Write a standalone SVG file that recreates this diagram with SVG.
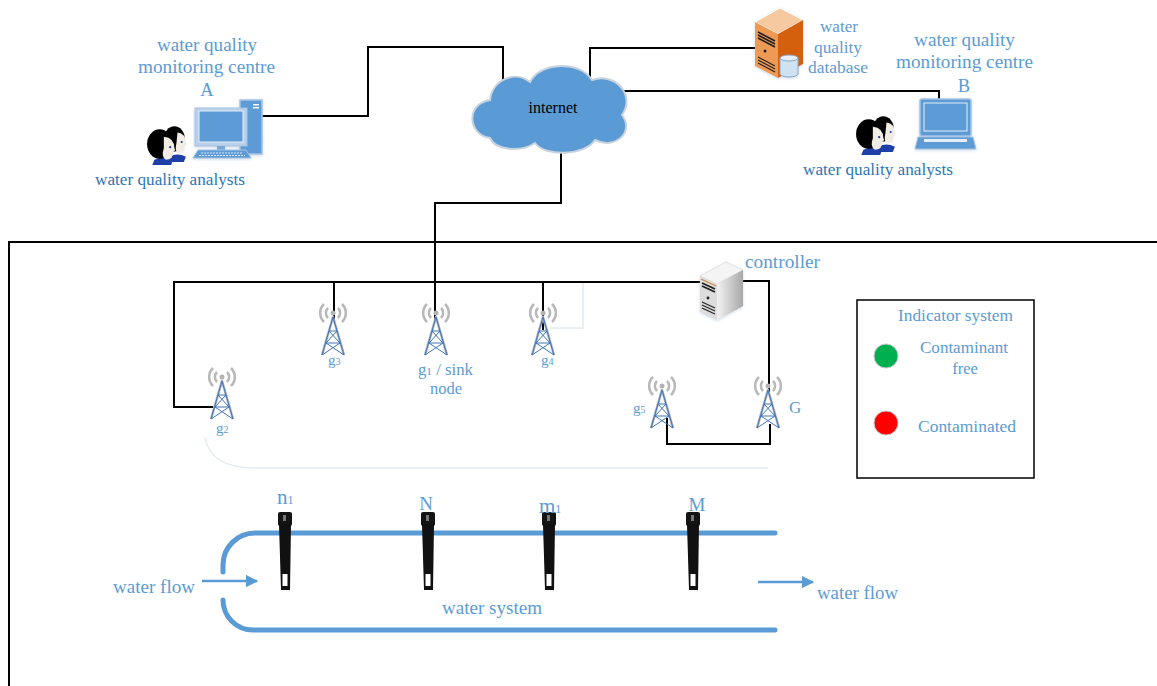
<svg xmlns="http://www.w3.org/2000/svg" width="1157" height="686" viewBox="0 0 1157 686">
  <style>
    .lbl { font-family: "Liberation Serif", "Times New Roman", serif; fill: #5b9bd5; }
    .dark { font-family: "Liberation Serif", "Times New Roman", serif; fill: #2e75b6; }
    .blk { font-family: "Liberation Serif", "Times New Roman", serif; fill: #000; }
    .wire { fill: none; stroke: #000; stroke-width: 2; stroke-linejoin: miter; }
    .faint { fill: none; stroke: #e3eaf3; stroke-width: 1.5; }
    .pipe { fill: none; stroke: #5b9bd5; stroke-width: 5; stroke-linecap: round; }
    .flow { fill: none; stroke: #5b9bd5; stroke-width: 2.5; }
  </style>
  <defs>
    <marker id="arr" viewBox="0 0 10 10" refX="9" refY="5" markerWidth="5" markerHeight="5" orient="auto" markerUnits="strokeWidth">
      <path d="M0,0 L10,5 L0,10 Z" fill="#5b9bd5"/>
    </marker>
    <filter id="soft" x="-20%" y="-20%" width="140%" height="140%">
      <feGaussianBlur in="SourceAlpha" stdDeviation="1.5"/>
      <feOffset dx="0" dy="1" result="b"/>
      <feFlood flood-color="#9bb8d8" flood-opacity="0.5"/>
      <feComposite in2="b" operator="in"/>
      <feMerge><feMergeNode/><feMergeNode in="SourceGraphic"/></feMerge>
    </filter>
    <linearGradient id="srvSide" x1="0" y1="0" x2="1" y2="0">
      <stop offset="0" stop-color="#f2f2f2"/>
      <stop offset="1" stop-color="#a8a8a8"/>
    </linearGradient>
    <!-- radio tower: origin at the centre of the waves -->
    <g id="tower">
      <circle cx="0" cy="0" r="2.5" fill="#b3b3b3"/>
      <path d="M-5,-5 A7,7 0 0 0 -5,5 M5,-5 A7,7 0 0 1 5,5 M-9,-9 A12.5,12.5 0 0 0 -9,9 M9,-9 A12.5,12.5 0 0 1 9,9" fill="none" stroke="#b8b8b8" stroke-width="2.5"/>
      <path d="M-11,42 L0,4 L11,42" fill="none" stroke="#aab3bf" stroke-width="2.5" stroke-linejoin="round"/>
      <path d="M-11,42 L0,4 L11,42 M-4,18 L4,18 M-7,30 L7,30 M-4,18 L7,30 M4,18 L-7,30 M-7,30 L11,42 M7,30 L-11,42" fill="none" stroke="#3f74b8" stroke-width="1"/>
    </g>
    <!-- two analysts -->
    <g id="people">
      <path d="M22,33 Q30,29 38,33 L36,38 L22,38 Z" fill="#1f3fa8"/>
      <ellipse cx="27" cy="16" rx="10" ry="12" fill="#000"/>
      <path d="M30,10 Q38,11 38,20 Q40,22 37,23 Q37,30 31,30 Q27,28 29,20 Z" fill="#f1ede4"/>
      <circle cx="34" cy="19" r="1" fill="#1f3fa8"/>
      <path d="M8,36 Q17,31 26,35 L24,41 L6,41 Z" fill="#1f3fa8"/>
      <ellipse cx="13" cy="21" rx="12" ry="14" fill="#000"/>
      <path d="M17,14 Q27,15 27,25 Q29,27 26,28 Q26,36 19,36 Q14,33 17,25 Z" fill="#f1ede4"/>
      <circle cx="23" cy="24" r="1.1" fill="#1f3fa8"/>
    </g>
    <!-- water quality probe -->
    <g id="probe">
      <rect x="-7" y="0" width="14" height="14" rx="2" fill="#141414"/>
      <path d="M-6,12 L6,12 L5,78 L-4,78 Z" fill="#111"/>
      <rect x="-2" y="3" width="3" height="6" fill="#777"/>
      <rect x="-2.5" y="62" width="5" height="12" fill="#fff"/>
    </g>
  </defs>

  <!-- field enclosure -->
  <rect x="9" y="242" width="1170" height="470" fill="none" stroke="#000" stroke-width="2"/>

  <!-- faint guide lines -->
  <g id="guides">
    <path class="faint" d="M583,282 L583,328 L550,328"/>
    <path class="faint" d="M205,437 Q210,468 255,468 L768,468"/>
  </g>

  <!-- connectors -->
  <g id="connectors">
    <path class="wire" d="M260,116 L368,116 L368,47 L503,47 L503,90"/>
    <path class="wire" d="M590,77 L590,48 L780,48"/>
    <path class="wire" d="M605,91 L939,91 L939,103"/>
    <path class="wire" d="M561,153 L561,203 L435,203 L435,322"/>
    <path class="wire" d="M213,407 L174,407 L174,282 L700,282" stroke-width="2.5"/>
    <path class="wire" d="M334,282 L334,320" stroke-width="2.5"/>
    <path class="wire" d="M543,282 L543,330" stroke-width="2.5"/>
    <path class="wire" d="M741,281 L769,281 L769,392"/>
    <path class="wire" d="M667,418 L667,444 L770,444 L770,424"/>
  </g>

  <!-- internet cloud -->
  <g id="internet">
    <path d="M490,138 C468,135 465,104 490,100 C492,80 515,70 530,82 C540,62 580,60 592,80 C615,72 636,95 622,115 C635,132 615,150 595,140 C585,156 545,157 535,143 C520,153 495,150 490,138 Z" fill="#5b9bd5" stroke="#c9d3de" stroke-width="2"/>
    <text class="blk" x="553" y="113" font-size="16" text-anchor="middle">internet</text>
  </g>

  <!-- monitoring centre A -->
  <g id="centreA">
    <text class="lbl" x="157" y="51" font-size="18.5" textLength="100" lengthAdjust="spacingAndGlyphs">water quality</text>
    <text class="lbl" x="138" y="73" font-size="18.5" textLength="137" lengthAdjust="spacingAndGlyphs">monitoring centre</text>
    <text class="lbl" x="207" y="96" font-size="18.5" text-anchor="middle">A</text>
    <g filter="url(#soft)">
      <rect x="240" y="100" width="22" height="54" fill="#5b9bd5" stroke="#a7c3e3" stroke-width="1.5"/>
      <rect x="253" y="104" width="6" height="1.5" fill="#fff"/>
      <rect x="253" y="107" width="6" height="1.5" fill="#fff"/>
      <rect x="195" y="108" width="52" height="38" fill="#b8d0ec" stroke="#a7c3e3"/>
      <rect x="199" y="111" width="44" height="31" fill="#5b9bd5" stroke="#e6eef8"/>
      <rect x="217" y="146" width="8" height="4" fill="#7aa7da"/>
      <path d="M198,150 L246,150 L251,158 L193,158 Z" fill="#5b9bd5" stroke="#a7c3e3"/>
      <path d="M201,153 L243,153 M199,155.5 L245,155.5" stroke="#dbe7f5" stroke-width="1" stroke-dasharray="2,1"/>
    </g>
    <use href="#people" transform="translate(146,122) scale(1.05)"/>
    <text class="dark" x="95" y="185" font-size="16.5" textLength="150" lengthAdjust="spacingAndGlyphs">water quality analysts</text>
  </g>

  <!-- database -->
  <g id="database">
    <g filter="url(#soft)">
      <path d="M755,22 L780,8 L803,20 L778,34 Z" fill="#f6c9a0" stroke="#fff" stroke-width="1"/>
      <path d="M755,22 L778,34 L778,78 L755,66 Z" fill="#ee9a55"/>
      <path d="M778,34 L803,20 L803,64 L778,78 Z" fill="#d4600f"/>
      <path d="M758,32 L775,41 M758,35 L775,44 M758,38 L775,47" stroke="#222" stroke-width="1.6"/>
      <circle cx="765" cy="51" r="1.5" fill="#222"/>
      <path d="M758,57 L775,66 M758,60 L775,69 M758,63 L775,72" stroke="#222" stroke-width="1.2"/>
      <path d="M780,58 L780,74 A9,3 0 0 0 798,74 L798,58" fill="#cfe2f3" stroke="#8aa6c0" stroke-width="1"/>
      <ellipse cx="789" cy="58" rx="9" ry="3" fill="#e7f0fa" stroke="#8aa6c0" stroke-width="1"/>
    </g>
    <text class="lbl" x="820" y="32" font-size="16.5" textLength="38" lengthAdjust="spacingAndGlyphs">water</text>
    <text class="lbl" x="814" y="53" font-size="16.5" textLength="48" lengthAdjust="spacingAndGlyphs">quality</text>
    <text class="lbl" x="808" y="73" font-size="16.5" textLength="60" lengthAdjust="spacingAndGlyphs">database</text>
  </g>

  <!-- monitoring centre B -->
  <g id="centreB">
    <text class="lbl" x="914" y="46" font-size="18.5" textLength="101" lengthAdjust="spacingAndGlyphs">water quality</text>
    <text class="lbl" x="896" y="68" font-size="18.5" textLength="137" lengthAdjust="spacingAndGlyphs">monitoring centre</text>
    <text class="lbl" x="964" y="92" font-size="18.5" text-anchor="middle">B</text>
    <g filter="url(#soft)">
      <rect x="920" y="99" width="51" height="37" rx="2" fill="#5b9bd5" stroke="#a7c3e3" stroke-width="1.5"/>
      <rect x="924" y="103" width="43" height="28" fill="#5b9bd5" stroke="#e6eef8"/>
      <path d="M918,137 L973,137 L976,149 L915,149 Z" fill="#5b9bd5" stroke="#a7c3e3"/>
      <rect x="924" y="139" width="43" height="3" fill="#e6eef8"/>
    </g>
    <use href="#people" transform="translate(855,112) scale(1.05)"/>
    <text class="dark" x="803" y="175" font-size="16.5" textLength="150" lengthAdjust="spacingAndGlyphs">water quality analysts</text>
  </g>

  <!-- gateways -->
  <g id="g3">
    <use href="#tower" x="333" y="313"/>
    <text class="lbl" x="328" y="365" font-size="15">g<tspan font-size="10">3</tspan></text>
  </g>
  <g id="g1">
    <use href="#tower" x="436" y="313"/>
    <text class="lbl" x="418" y="375" font-size="16.5" textLength="55" lengthAdjust="spacingAndGlyphs">g<tspan font-size="11">1</tspan> / sink</text>
    <text class="lbl" x="446" y="394" font-size="16.5" text-anchor="middle">node</text>
  </g>
  <g id="g4">
    <use href="#tower" x="543" y="313"/>
    <text class="lbl" x="541" y="365" font-size="15">g<tspan font-size="10">4</tspan></text>
  </g>
  <g id="g2">
    <use href="#tower" x="222" y="377"/>
    <text class="lbl" x="216" y="433" font-size="15">g<tspan font-size="10">2</tspan></text>
  </g>
  <g id="g5">
    <use href="#tower" x="662" y="386"/>
    <text class="lbl" x="633" y="413" font-size="15">g<tspan font-size="10">5</tspan></text>
  </g>
  <g id="G">
    <use href="#tower" x="768" y="386"/>
    <text class="lbl" x="789" y="413" font-size="17">G</text>
  </g>

  <!-- controller -->
  <g id="controller">
    <g filter="url(#soft)">
      <path d="M700,276 L726,262 L743,270 L717,284 Z" fill="#f4f4f4" stroke="#ddd" stroke-width="0.8"/>
      <path d="M700,276 L717,284 L717,320 L700,312 Z" fill="#dcdcdc"/>
      <path d="M717,284 L743,270 L743,306 L717,320 Z" fill="url(#srvSide)"/>
      <path d="M701,279 L716,286" stroke="#d58a3a" stroke-width="1.2"/>
      <path d="M702,283 L715,289 M702,286 L715,292" stroke="#222" stroke-width="1.8"/>
      <circle cx="708" cy="298" r="1.4" fill="#222"/>
      <path d="M702,302 L715,308 M702,305 L715,311 M702,308 L715,314" stroke="#222" stroke-width="1.2"/>
    </g>
    <text class="lbl" x="745" y="268" font-size="18.5" textLength="75" lengthAdjust="spacingAndGlyphs">controller</text>
  </g>

  <!-- indicator legend -->
  <g id="indicator">
    <rect x="857" y="300" width="177" height="178" fill="#fff" stroke="#000" stroke-width="1.5"/>
    <text class="lbl" x="898" y="321" font-size="16.5" textLength="115" lengthAdjust="spacingAndGlyphs">Indicator system</text>
    <circle cx="886" cy="356" r="12" fill="#00b050" stroke="#c8c8c8" stroke-width="1"/>
    <text class="lbl" x="920" y="353" font-size="16.5" textLength="88" lengthAdjust="spacingAndGlyphs">Contaminant</text>
    <text class="lbl" x="965" y="374" font-size="16.5" text-anchor="middle">free</text>
    <circle cx="886" cy="423" r="12" fill="#ff0000" stroke="#c8c8c8" stroke-width="1"/>
    <text class="lbl" x="918" y="432" font-size="16.5" textLength="98" lengthAdjust="spacingAndGlyphs">Contaminated</text>
  </g>

  <!-- water system pipe -->
  <g id="water-system">
    <path class="pipe" d="M223,572 L223,565 A32,32 0 0 1 255,533 L775,533"/>
    <path class="pipe" d="M223,600 A30,30 0 0 0 253,630 L775,630"/>
    <text class="lbl" x="442" y="614" font-size="18.5" textLength="100" lengthAdjust="spacingAndGlyphs">water system</text>
  </g>

  <!-- flow arrows -->
  <g id="flow-in">
    <path class="flow" d="M202,581 L257,581" marker-end="url(#arr)"/>
    <text class="lbl" x="113" y="593" font-size="18.5" textLength="82" lengthAdjust="spacingAndGlyphs">water flow</text>
  </g>
  <g id="flow-out">
    <path class="flow" d="M758,582 L813,582" marker-end="url(#arr)"/>
    <text class="lbl" x="817" y="599" font-size="18.5" textLength="81" lengthAdjust="spacingAndGlyphs">water flow</text>
  </g>

  <!-- sensor probes -->
  <g id="n1">
    <use href="#probe" x="285" y="512"/>
    <text class="lbl" x="277" y="504" font-size="21">n<tspan font-size="12">1</tspan></text>
  </g>
  <g id="N">
    <use href="#probe" x="428" y="512"/>
    <text class="lbl" x="426" y="510" font-size="19" text-anchor="middle">N</text>
  </g>
  <g id="m1">
    <use href="#probe" x="549" y="512"/>
    <text class="lbl" x="539" y="513" font-size="21">m<tspan font-size="12">1</tspan></text>
  </g>
  <g id="M">
    <use href="#probe" x="693" y="512"/>
    <text class="lbl" x="697" y="511" font-size="19" text-anchor="middle">M</text>
  </g>
</svg>
